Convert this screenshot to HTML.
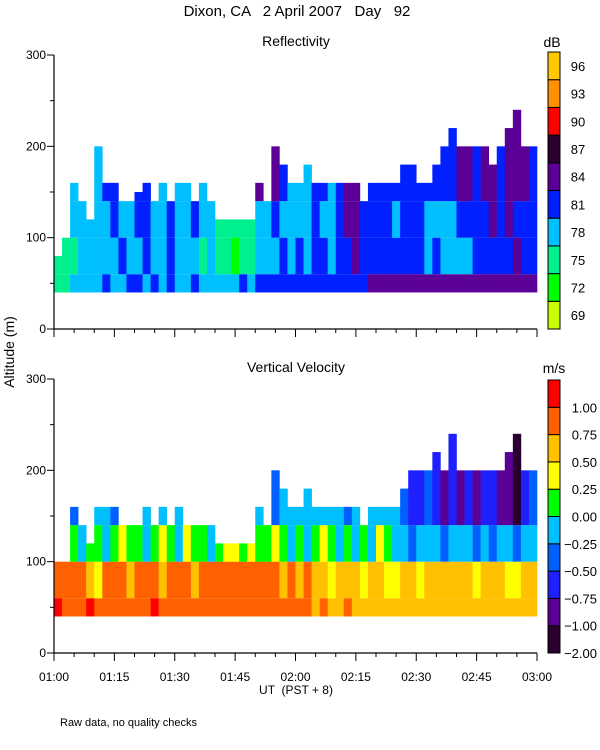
<!DOCTYPE html>
<html><head><meta charset="utf-8"><style>
body{margin:0;background:#fff;}
svg{display:block;font-family:"Liberation Sans",sans-serif;}
</style></head><body>
<svg id="chart" width="600" height="750" viewBox="0 0 600 750" xmlns="http://www.w3.org/2000/svg">
<rect width="600" height="750" fill="#fff"/>
<text x="297" y="16" font-size="15" text-anchor="middle" xml:space="preserve">Dixon, CA   2 April 2007   Day   92</text>
<text x="296" y="46" font-size="14" text-anchor="middle">Reflectivity</text>
<text x="296" y="372" font-size="14" text-anchor="middle">Vertical Velocity</text>
<text x="552" y="47" font-size="14" text-anchor="middle">dB</text>
<text x="554" y="373" font-size="14" text-anchor="middle">m/s</text>
<text transform="translate(14,352) rotate(-90)" font-size="14" text-anchor="middle">Altitude (m)</text>
<text x="296" y="694" font-size="12" text-anchor="middle" xml:space="preserve">UT  (PST + 8)</text>
<text x="60" y="726" font-size="11">Raw data, no quality checks</text>
<g id="g"></g>
</svg>
<script>
// Data: 2-minute columns from 01:00 to 03:00
const times = Array.from({length:60},(_,i)=>i*2); // minutes since 01:00
const reflTop = [80,100,160,140,120,200,160,160,140,140, 150,160,140,160,140,160,160,140,160,140, 120,120,120,120,120,160,140,200,180,160, 160,180,160,160,160,160,160,160,140,160, 160,160,160,180,180,160,160,180,200,220, 200,200,200,200,180,200,220,240,200,200];
const reflLo  = [2,2,3,3,3,3,4,3,3,4, 4,3,4,3,4,3,3,4,3,3, 3,3,3,4,3,4,4,4,4,4, 4,4,4,4,4,4,4,4,4,5, 5,5,5,5,5,5,5,5,5,5, 5,5,5,5,5,5,5,5,5,5];
const reflMid = [2,2,2,3,3,3,3,3,4,3, 3,4,3,3,4,3,3,3,2,3, 2,2,1,2,2,3,3,3,4,3, 4,3,4,4,3,4,4,5,4,4, 4,4,4,4,4,4,3,4,3,3, 3,3,4,4,4,4,4,5,4,4];
const reflHi  = [3,3,3,3,3,3,3,4,3,3, 4,4,3,3,4,3,3,4,3,3, 2,2,2,2,2,3,3,4,3,3, 3,3,4,3,3,4,5,5,4,4, 4,4,3,4,4,4,3,3,3,3, 4,4,4,4,5,4,5,4,4,4];
const reflUp  = [3,3,3,3,3,3,4,4,3,4, 4,4,3,3,4,3,3,4,3,3, 3,3,3,3,3,5,4,5,4,3, 3,3,4,4,3,4,5,5,4,4, 4,4,4,4,4,4,4,4,4,4, 5,5,4,5,5,4,5,5,5,4];
const velTop = [100,100,160,140,120,160,160,160,140,140, 140,160,140,160,140,160,140,140,140,140, 120,120,120,120,120,160,140,200,180,160, 160,180,160,160,160,160,160,160,140,160, 160,160,160,180,200,200,200,220,200,240, 200,200,200,200,200,200,220,240,200,200];
const velLo  = [9,8,8,8,9,8,8,8,8,8, 8,8,9,8,8,8,8,8,8,8, 8,8,8,8,8,8,8,8,8,8, 8,8,7,8,7,7,8,7,7,7, 7,7,7,7,7,7,7,7,7,7, 7,7,7,7,7,7,7,7,7,7];
const velMid = [8,8,8,8,7,6,8,8,8,7, 8,8,8,7,8,8,8,7,8,8, 8,8,8,8,8,8,8,8,7,8, 7,8,7,7,6,7,7,7,6,7, 7,6,6,7,7,6,7,7,7,7, 7,7,6,7,7,7,6,6,7,7];
const velHi  = [6,5,5,4,5,5,4,5,6,5, 5,4,5,6,5,4,6,5,5,4, 5,6,6,5,6,5,5,6,5,4, 5,4,5,6,5,4,5,4,5,4, 6,5,4,4,3,4,4,4,3,4, 4,4,3,4,3,4,4,3,4,4];
const velUp  = [4,4,3,4,4,4,4,3,4,4, 4,4,5,4,4,4,4,3,4,4, 4,4,4,4,4,4,4,3,4,4, 4,4,4,4,4,4,3,4,4,4, 4,4,4,3,2,2,3,2,1,2, 1,2,1,2,2,1,1,0,2,3];
const reflColors = ["#c8ff00","#00ff00","#00f090","#00bfff","#0020ff","#5a0096","#2a0030","#ff0000","#ff9000","#ffc800"];
const reflLabels = ["69","72","75","78","81","84","87","90","93","96"];
const velColors = ["#2a0030","#5a0096","#2020ff","#0060ff","#00bfff","#00ff00","#ffff00","#ffc000","#ff6000","#ff0000"];
const velLabels = ["-2.00","-1.00","-0.75","-0.50","-0.25","0.00","0.25","0.50","0.75","1.00"];
const xLabels = ["01:00","01:15","01:30","01:45","02:00","02:15","02:30","02:45","03:00"];
const yLabels = [0,100,200,300];

const NS="http://www.w3.org/2000/svg", G=document.getElementById('g');
const X0=54, X1=537;
const xS = t => X0 + t*(X1-X0)/120;
function mk(tag, attrs){const e=document.createElementNS(NS,tag);for(const k in attrs)e.setAttribute(k,attrs[k]);G.appendChild(e);return e;}

function panel(yBase, tops, lo, mid, hi, up, colors, name){
  const yS = h => yBase - h*274/300;
  const bands = [[40,60,lo],[60,100,mid],[100,140,hi],[140,1000,up]];
  times.forEach((t,i)=>{
    bands.forEach(([a,b,arr],bi)=>{
      const top=Math.min(b,tops[i]);
      if(top<=a) return;
      const r=mk('rect',{x:xS(t),y:yS(top),width:xS(t+2)-xS(t)+0.3,height:yS(a)-yS(top),fill:colors[arr[i]]});
      
      
    });
  });
  const ax=mk('path',{d:`M${X0},${yS(300)} V${yBase} H${X1}`,stroke:'#000',fill:'none','stroke-width':1.2});
  
  
  for(let m=0;m<=120;m+=5){
    const big=m%15===0;
    mk('line',{x1:xS(m),x2:xS(m),y1:yBase,y2:yBase+(big?8:4),stroke:'#000'});
  }
  for(let h=0;h<=300;h+=50){
    mk('line',{x1:X0-(h%100===0?7:4),x2:X0,y1:yS(h),y2:yS(h),stroke:'#000'});
  }
  yLabels.forEach(v=>{
    const tx=mk('text',{x:X0-8,y:yS(v)+4,'font-size':12,'text-anchor':'end'});
    tx.textContent=v;
    
    
  });
}
panel(329, reflTop, reflLo, reflMid, reflHi, reflUp, reflColors, 'reflectivity');
panel(653, velTop, velLo, velMid, velHi, velUp, velColors, 'velocity');

xLabels.forEach((l,i)=>{
  const tx=mk('text',{x:xS(i*15),y:681,'font-size':12,'text-anchor':'middle'});
  tx.textContent=l;
  
  
});

// colorbars
function cbar(top,bot,colors,labels,name,atBoundary){
  const n=colors.length, h=(bot-top)/n;
  colors.forEach((c,i)=>{
    const y=bot-(i+1)*h;
    const r=mk('rect',{x:548,y:y,width:12,height:h,fill:c,stroke:'#000','stroke-width':1});
    
    
    const tx=mk('text',{x:atBoundary?597:578,y:(atBoundary?bot-i*h:y+h/2)+5,'font-size':13,'text-anchor':atBoundary?'end':'middle'});
    tx.textContent=labels[i].replace('-','\u2212');
    
    
  });
}
cbar(52,329,reflColors,reflLabels,'db-colorbar',false);
cbar(380,653,velColors,velLabels,'velocity-colorbar',true);
</script>
</body></html>
